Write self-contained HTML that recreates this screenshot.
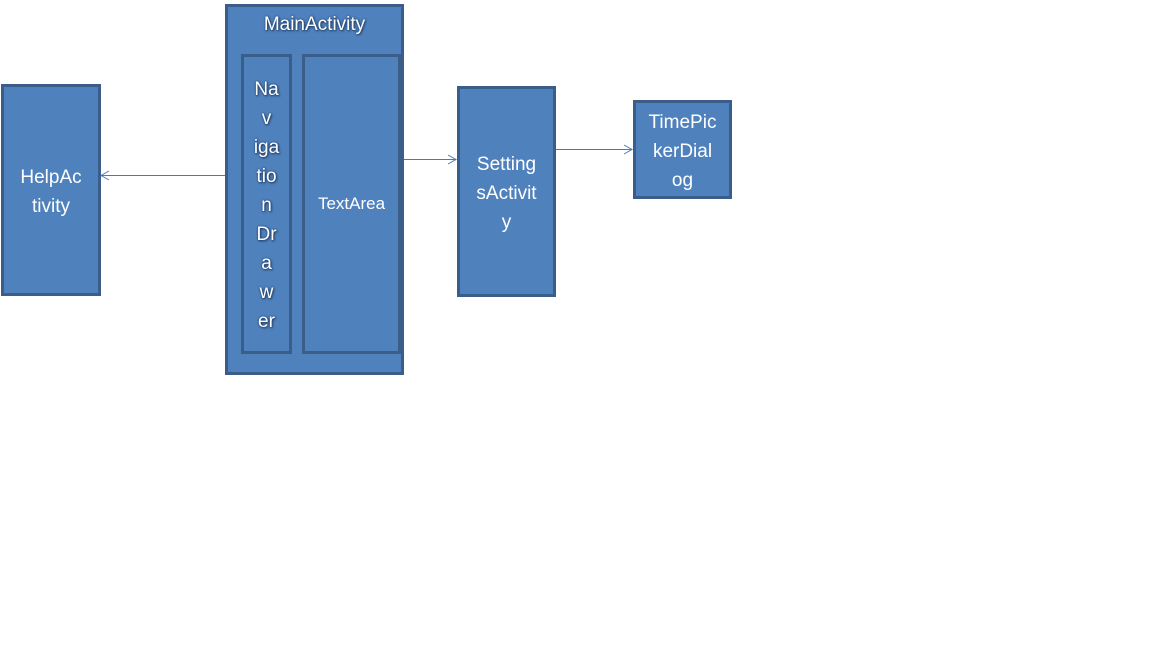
<!DOCTYPE html>
<html><head><meta charset="utf-8"><style>
html,body{margin:0;padding:0;background:#fff;width:1152px;height:648px;overflow:hidden;position:relative;font-family:"Liberation Sans",sans-serif;}
.b{position:absolute;box-sizing:border-box;background:#4f81bd;border:3px solid #3a5d8a;color:#fff;}
.t{position:absolute;left:0;right:0;text-align:center;color:#fff;}
.s{text-shadow:1px 1px 2px #1f3a60,0 0 2px #1f3a60;}
</style></head><body>
<svg width="1152" height="648" style="position:absolute;left:0;top:0">
<g stroke="#4a7ab5" stroke-width="1" fill="none">
<line x1="225" y1="175.5" x2="101" y2="175.5"/><polyline points="109,171 101,175.5 109,180"/>
<line x1="403" y1="159.5" x2="456" y2="159.5"/><polyline points="448,155 456,159.5 448,164"/>
<line x1="556" y1="149.5" x2="632" y2="149.5"/><polyline points="624,145 632,149.5 624,154"/>
</g></svg>
<div class="b" style="left:1px;top:84px;width:100px;height:212px">
<div class="t" style="top:76px;font-size:19px;line-height:29px">HelpAc<br>tivity</div></div>
<div class="b" style="left:225px;top:4px;width:179px;height:371px">
<div class="t s" style="top:6px;font-size:19px;line-height:24px">MainActivity</div></div>
<div class="b" style="left:241px;top:54px;width:51px;height:300px">
<div class="t s" style="top:18px;font-size:19px;line-height:29px">Na<br>v<br>iga<br>tio<br>n<br>Dr<br>a<br>w<br>er</div></div>
<div class="b" style="left:302px;top:54px;width:99px;height:300px">
<div class="t" style="top:137px;font-size:17px;line-height:20px">TextArea</div></div>
<div class="b" style="left:457px;top:86px;width:99px;height:211px">
<div class="t" style="top:61px;font-size:19px;line-height:29px">Setting<br>sActivit<br>y</div></div>
<div class="b" style="left:633px;top:100px;width:99px;height:99px">
<div class="t" style="top:5px;font-size:19px;line-height:29px">TimePic<br>kerDial<br>og</div></div>
</body></html>
